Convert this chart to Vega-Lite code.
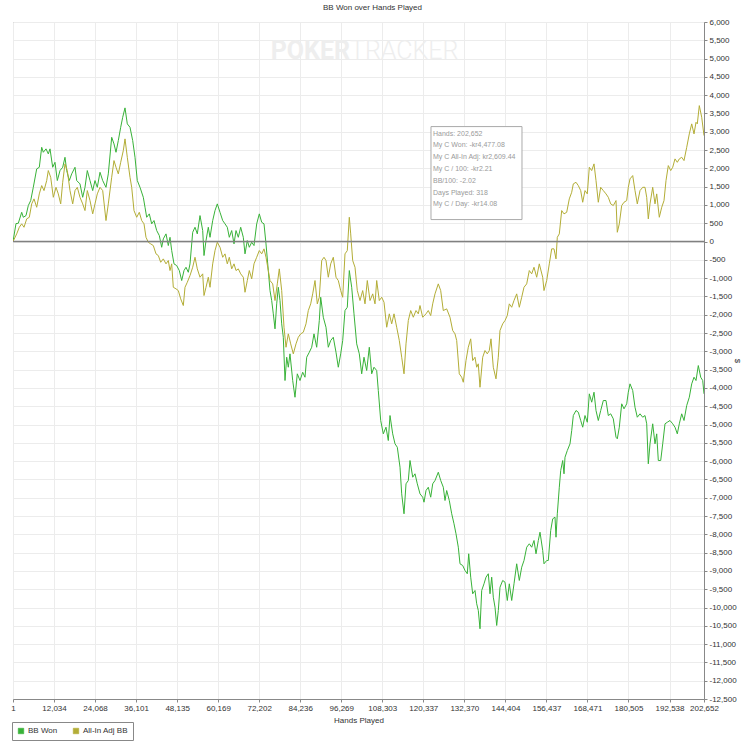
{
  "$schema": "https://vega.github.io/schema/vega-lite/v6.json",
  "width": 691,
  "height": 677,
  "autosize": {"type": "none"},
  "padding": {"left": 13, "top": 22, "right": 39, "bottom": 51},
  "background": "white",
  "title": {"text": "BB Won over Hands Played", "fontSize": 8, "fontWeight": "normal", "color": "#333", "offset": 6, "dx": 14, "font": "Liberation Sans"},
  "datasets": {
    "won": [
      {"h":1,"v":0},{"h":881,"v":492},{"h":1555,"v":500},{"h":2552,"v":800},{"h":3022,"v":664},{"h":3814,"v":710},{"h":4488,"v":984},{"h":5192,"v":1120},{"h":5954,"v":1483},{"h":6952,"v":1986},
      {"h":7714,"v":2030},{"h":8418,"v":2576},{"h":8887,"v":2440},{"h":9679,"v":2533},{"h":10353,"v":2396},{"h":10852,"v":2533},{"h":11644,"v":2030},{"h":12318,"v":2166},{"h":12993,"v":1667},{"h":13785,"v":1940},
      {"h":14576,"v":2030},{"h":15251,"v":2303},{"h":15750,"v":1940},{"h":16512,"v":1667},{"h":17216,"v":1850},{"h":18184,"v":2030},{"h":18682,"v":1667},{"h":19650,"v":1576},{"h":20442,"v":1210},{"h":21116,"v":1483},
      {"h":21791,"v":1940},{"h":22583,"v":1667},{"h":23375,"v":1393},{"h":24049,"v":1667},{"h":24724,"v":1483},{"h":25516,"v":1893},{"h":26307,"v":1667},{"h":27275,"v":1483},{"h":27950,"v":1850},{"h":28947,"v":2849},
      {"h":29621,"v":2669},{"h":30208,"v":2440},{"h":30883,"v":2759},{"h":31587,"v":3123},{"h":32173,"v":3396},{"h":32848,"v":3653},{"h":33522,"v":3216},{"h":34314,"v":3123},{"h":35106,"v":2759},{"h":35781,"v":2303},
      {"h":36455,"v":1667},{"h":37247,"v":1483},{"h":38214,"v":1210},{"h":38713,"v":937},{"h":39212,"v":664},{"h":39974,"v":757},{"h":40678,"v":484},{"h":41352,"v":574},{"h":42144,"v":301},{"h":42907,"v":164},
      {"h":43611,"v":-156},{"h":44080,"v":74},{"h":44872,"v":210},{"h":45546,"v":-109},{"h":46045,"v":117},{"h":46543,"v":-246},{"h":47218,"v":-609},{"h":48010,"v":-656},{"h":48772,"v":-792},{"h":49476,"v":-1065},
      {"h":50151,"v":-792},{"h":50737,"v":-702},{"h":51412,"v":-839},{"h":51911,"v":-609},{"h":52703,"v":254},{"h":53377,"v":391},{"h":54052,"v":210},{"h":54843,"v":710},{"h":55635,"v":301},{"h":56016,"v":-382},
      {"h":56603,"v":27},{"h":57277,"v":391},{"h":57776,"v":117},{"h":58568,"v":574},{"h":59243,"v":847},{"h":59917,"v":1030},{"h":60709,"v":800},{"h":61501,"v":574},{"h":62175,"v":484},{"h":62850,"v":391},
      {"h":63436,"v":117},{"h":64140,"v":301},{"h":64815,"v":-63},{"h":65401,"v":301},{"h":66076,"v":117},{"h":66780,"v":391},{"h":67542,"v":117},{"h":68041,"v":-336},{"h":68715,"v":27},{"h":69302,"v":-156},
      {"h":70005,"v":-19},{"h":70680,"v":-109},{"h":71472,"v":484},{"h":72234,"v":757},{"h":72938,"v":527},{"h":73613,"v":484},{"h":74199,"v":-63},{"h":74874,"v":-792},{"h":75372,"v":-1339},{"h":75871,"v":-1612},
      {"h":76340,"v":-1975},{"h":76839,"v":-2385},{"h":77337,"v":-1702},{"h":77806,"v":-1249},{"h":78304,"v":-1612},{"h":78803,"v":-2248},{"h":79272,"v":-2615},{"h":79771,"v":-3797},{"h":80269,"v":-3161},{"h":80738,"v":-3434},
      {"h":81237,"v":-3068},{"h":82029,"v":-3797},{"h":82703,"v":-4254},{"h":83378,"v":-3614},{"h":84170,"v":-3797},{"h":84961,"v":-3571},{"h":85636,"v":-3707},{"h":86135,"v":-3161},{"h":86897,"v":-3024},{"h":87601,"v":-2888},
      {"h":88275,"v":-2522},{"h":89067,"v":-2888},{"h":89830,"v":-2158},{"h":90240,"v":-1522},{"h":91003,"v":-2068},{"h":91795,"v":-2341},{"h":92469,"v":-2888},{"h":93173,"v":-2705},{"h":93935,"v":-2615},{"h":94727,"v":-3024},
      {"h":95402,"v":-3434},{"h":96106,"v":-3068},{"h":96692,"v":-2705},{"h":97367,"v":-1885},{"h":98041,"v":-1795},{"h":98628,"v":-792},{"h":99332,"v":-1249},{"h":100006,"v":-1975},{"h":100798,"v":-2795},{"h":101561,"v":-3068},
      {"h":102264,"v":-3614},{"h":102939,"v":-3161},{"h":103731,"v":-3524},{"h":104493,"v":-2888},{"h":105197,"v":-3614},{"h":105872,"v":-3434},{"h":106664,"v":-3524},{"h":107133,"v":-4071},{"h":107837,"v":-4890},{"h":108599,"v":-5254},
      {"h":109391,"v":-5073},{"h":110066,"v":-5437},{"h":110565,"v":-4754},{"h":111356,"v":-5254},{"h":112031,"v":-5527},{"h":112706,"v":-5620},{"h":113498,"v":-6166},{"h":113996,"v":-6893},{"h":114671,"v":-7439},{"h":115258,"v":-6620},
      {"h":115932,"v":-6529},{"h":116431,"v":-5983},{"h":117223,"v":-6439},{"h":117897,"v":-6346},{"h":118572,"v":-6620},{"h":119364,"v":-6893},{"h":120156,"v":-6986},{"h":120537,"v":-7122},{"h":121124,"v":-6803},{"h":121798,"v":-6713},
      {"h":122502,"v":-6986},{"h":123089,"v":-6620},{"h":123763,"v":-6529},{"h":124731,"v":-6303},{"h":125435,"v":-6529},{"h":126197,"v":-6713},{"h":126696,"v":-7076},{"h":127194,"v":-6803},{"h":127957,"v":-7076},{"h":128661,"v":-7439},
      {"h":129335,"v":-7712},{"h":129922,"v":-7986},{"h":130596,"v":-8352},{"h":131095,"v":-8805},{"h":131887,"v":-8852},{"h":132561,"v":-8988},{"h":133236,"v":-9078},{"h":133646,"v":-8532},{"h":134233,"v":-9171},{"h":134819,"v":-9625},
      {"h":135494,"v":-9535},{"h":135992,"v":-9898},{"h":136461,"v":-10081},{"h":136960,"v":-10581},{"h":137458,"v":-9535},{"h":138133,"v":-9352},{"h":138719,"v":-9171},{"h":139394,"v":-9078},{"h":139893,"v":-9625},{"h":140391,"v":-9171},
      {"h":140860,"v":-9718},{"h":141359,"v":-9991},{"h":141857,"v":-10491},{"h":142327,"v":-10081},{"h":142825,"v":-9445},{"h":143617,"v":-9261},{"h":144292,"v":-9308},{"h":144966,"v":-9808},{"h":145553,"v":-9352},{"h":146257,"v":-9808},
      {"h":146931,"v":-9352},{"h":147723,"v":-8805},{"h":148486,"v":-9261},{"h":149190,"v":-8898},{"h":149864,"v":-8715},{"h":150656,"v":-8352},{"h":151418,"v":-8259},{"h":152122,"v":-8352},{"h":152797,"v":-8169},{"h":153384,"v":-8532},
      {"h":154058,"v":-8169},{"h":154557,"v":-7942},{"h":155349,"v":-8442},{"h":155730,"v":-8805},{"h":156522,"v":-8715},{"h":156991,"v":-8715},{"h":157695,"v":-7895},{"h":158282,"v":-7576},{"h":158956,"v":-7532},{"h":159250,"v":-8079},
      {"h":159631,"v":-7439},{"h":160217,"v":-6713},{"h":160628,"v":-6256},{"h":161215,"v":-5983},{"h":161596,"v":-6346},{"h":161889,"v":-5893},{"h":162564,"v":-5710},{"h":163356,"v":-5527},{"h":163854,"v":-5163},{"h":164323,"v":-4754},
      {"h":165115,"v":-4617},{"h":165790,"v":-4664},{"h":166494,"v":-4890},{"h":167080,"v":-5073},{"h":167755,"v":-4754},{"h":168429,"v":-4937},{"h":169016,"v":-4161},{"h":169720,"v":-4390},{"h":170394,"v":-4117},{"h":170981,"v":-4617},
      {"h":171656,"v":-4890},{"h":172359,"v":-4617},{"h":173122,"v":-4344},{"h":173913,"v":-4344},{"h":174588,"v":-4754},{"h":175292,"v":-4707},{"h":176054,"v":-4844},{"h":176846,"v":-5346},{"h":177227,"v":-5390},{"h":177814,"v":-5073},
      {"h":178518,"v":-4434},{"h":179193,"v":-4571},{"h":179984,"v":-4434},{"h":180454,"v":-4117},{"h":180952,"v":-3888},{"h":181744,"v":-4071},{"h":182419,"v":-4527},{"h":183093,"v":-4800},{"h":183885,"v":-4707},{"h":184677,"v":-4800},
      {"h":185352,"v":-4754},{"h":185850,"v":-4980},{"h":186319,"v":-6073},{"h":186818,"v":-5527},{"h":187610,"v":-4980},{"h":188284,"v":-5527},{"h":188783,"v":-5254},{"h":189252,"v":-5983},{"h":189956,"v":-5983},{"h":190543,"v":-5527},
      {"h":191217,"v":-4980},{"h":191892,"v":-4937},{"h":192684,"v":-4890},{"h":193475,"v":-4980},{"h":194150,"v":-5073},{"h":194825,"v":-5254},{"h":195411,"v":-4980},{"h":196115,"v":-4707},{"h":196790,"v":-4890},{"h":197582,"v":-4480},
      {"h":198344,"v":-4254},{"h":199048,"v":-3888},{"h":199722,"v":-3707},{"h":200309,"v":-3797},{"h":200983,"v":-3388},{"h":201687,"v":-3707},{"h":202273,"v":-3797},{"h":202652,"v":-4161}
    ],
    "adj": [
      {"h":1,"v":0},{"h":1086,"v":210},{"h":1849,"v":391},{"h":2552,"v":484},{"h":3227,"v":391},{"h":4019,"v":620},{"h":4781,"v":664},{"h":5485,"v":1030},{"h":6160,"v":1167},{"h":6952,"v":937},
      {"h":7714,"v":1303},{"h":8418,"v":1530},{"h":9093,"v":1393},{"h":9884,"v":1667},{"h":10353,"v":1940},{"h":11057,"v":1757},{"h":11820,"v":1210},{"h":12612,"v":1483},{"h":13286,"v":1303},{"h":13990,"v":1030},
      {"h":14577,"v":1620},{"h":15251,"v":2123},{"h":15926,"v":1940},{"h":16717,"v":1393},{"h":17509,"v":1030},{"h":18184,"v":1393},{"h":18858,"v":1483},{"h":19650,"v":1210},{"h":20442,"v":1030},{"h":21116,"v":847},
      {"h":21791,"v":1393},{"h":22583,"v":1120},{"h":23375,"v":757},{"h":24049,"v":1030},{"h":24724,"v":1303},{"h":25516,"v":1483},{"h":26307,"v":1393},{"h":27275,"v":574},{"h":27950,"v":1030},{"h":28947,"v":1757},
      {"h":29621,"v":2213},{"h":30208,"v":2030},{"h":30883,"v":1850},{"h":31587,"v":2166},{"h":32349,"v":2486},{"h":32848,"v":2806},{"h":33522,"v":2303},{"h":34314,"v":1757},{"h":34813,"v":1483},{"h":35487,"v":847},
      {"h":36279,"v":664},{"h":37041,"v":800},{"h":37745,"v":574},{"h":38420,"v":484},{"h":39006,"v":117},{"h":39681,"v":-19},{"h":40385,"v":-63},{"h":41147,"v":-109},{"h":41939,"v":-336},{"h":42613,"v":-382},
      {"h":43317,"v":-566},{"h":44080,"v":-473},{"h":44872,"v":-609},{"h":45546,"v":-519},{"h":46045,"v":-792},{"h":46543,"v":-609},{"h":47012,"v":-1249},{"h":47805,"v":-1292},{"h":48479,"v":-1339},{"h":49183,"v":-1565},
      {"h":49945,"v":-1748},{"h":50444,"v":-1249},{"h":51118,"v":-1112},{"h":51910,"v":-929},{"h":52702,"v":-702},{"h":53377,"v":-429},{"h":54051,"v":-746},{"h":54843,"v":-975},{"h":55635,"v":-882},{"h":56016,"v":-1475},
      {"h":56603,"v":-1249},{"h":57277,"v":-975},{"h":57776,"v":-1249},{"h":58568,"v":-609},{"h":59243,"v":-246},{"h":59917,"v":-19},{"h":60709,"v":-156},{"h":61501,"v":-429},{"h":62175,"v":-336},{"h":62850,"v":-609},
      {"h":63436,"v":-429},{"h":64140,"v":-746},{"h":64815,"v":-609},{"h":65401,"v":-792},{"h":66076,"v":-746},{"h":66780,"v":-882},{"h":67542,"v":-975},{"h":68041,"v":-1385},{"h":68715,"v":-1065},{"h":69302,"v":-792},
      {"h":70005,"v":-1019},{"h":70680,"v":-609},{"h":71472,"v":-429},{"h":72234,"v":-246},{"h":72938,"v":-336},{"h":73613,"v":-199},{"h":74199,"v":-429},{"h":74874,"v":-792},{"h":75372,"v":-1065},{"h":76164,"v":-1156},
      {"h":76839,"v":-1612},{"h":77513,"v":-1156},{"h":78100,"v":-746},{"h":78803,"v":-1339},{"h":79478,"v":-2341},{"h":80065,"v":-2888},{"h":80739,"v":-2522},{"h":81443,"v":-2795},{"h":82205,"v":-3068},{"h":82997,"v":-2795},
      {"h":83672,"v":-2615},{"h":84376,"v":-2522},{"h":85138,"v":-2478},{"h":85930,"v":-2248},{"h":86605,"v":-1885},{"h":87309,"v":-1702},{"h":87895,"v":-1429},{"h":88570,"v":-1065},{"h":89244,"v":-1702},{"h":89831,"v":-1522},
      {"h":90535,"v":-519},{"h":91209,"v":-429},{"h":91796,"v":-519},{"h":92470,"v":-975},{"h":93174,"v":-609},{"h":93936,"v":-429},{"h":94728,"v":-975},{"h":95403,"v":-1065},{"h":96107,"v":-1339},{"h":96693,"v":-1522},
      {"h":97367,"v":-336},{"h":98042,"v":-246},{"h":98628,"v":664},{"h":99039,"v":210},{"h":99626,"v":-519},{"h":100300,"v":-702},{"h":100975,"v":-1339},{"h":101767,"v":-1612},{"h":102559,"v":-1339},{"h":103233,"v":-1702},
      {"h":103908,"v":-1065},{"h":104700,"v":-1612},{"h":105492,"v":-1429},{"h":106166,"v":-1702},{"h":106665,"v":-1065},{"h":107427,"v":-1612},{"h":108131,"v":-1522},{"h":108806,"v":-1658},{"h":109598,"v":-2341},{"h":110360,"v":-1975},
      {"h":111064,"v":-2248},{"h":111739,"v":-1975},{"h":112530,"v":-2341},{"h":113293,"v":-2705},{"h":113997,"v":-3161},{"h":114671,"v":-3614},{"h":115258,"v":-2795},{"h":115933,"v":-2158},{"h":116637,"v":-1885},{"h":117399,"v":-2068},
      {"h":118191,"v":-1885},{"h":118866,"v":-1975},{"h":119360,"v":-1748},{"h":120151,"v":-2068},{"h":121119,"v":-1975},{"h":121794,"v":-1885},{"h":122498,"v":-2022},{"h":123084,"v":-1702},{"h":123759,"v":-1429},{"h":124727,"v":-1156},
      {"h":125431,"v":-1339},{"h":126193,"v":-1885},{"h":127190,"v":-1839},{"h":128158,"v":-2068},{"h":128950,"v":-2431},{"h":129624,"v":-2522},{"h":130123,"v":-2705},{"h":130886,"v":-3614},{"h":131590,"v":-3707},{"h":132059,"v":-3844},
      {"h":132851,"v":-3251},{"h":133525,"v":-2888},{"h":134229,"v":-2658},{"h":134816,"v":-3251},{"h":135490,"v":-3161},{"h":135989,"v":-3434},{"h":136458,"v":-3341},{"h":136957,"v":-3981},{"h":137749,"v":-3161},{"h":138423,"v":-2978},
      {"h":139098,"v":-3068},{"h":139684,"v":-2978},{"h":140183,"v":-2658},{"h":140858,"v":-3434},{"h":141650,"v":-3751},{"h":142324,"v":-3161},{"h":142823,"v":-2431},{"h":143615,"v":-2248},{"h":144290,"v":-2158},{"h":144964,"v":-2022},
      {"h":145551,"v":-1702},{"h":146255,"v":-1795},{"h":146929,"v":-1612},{"h":147721,"v":-1429},{"h":148484,"v":-1795},{"h":149188,"v":-1522},{"h":149862,"v":-1249},{"h":150654,"v":-1156},{"h":151417,"v":-792},{"h":152120,"v":-882},
      {"h":152795,"v":-702},{"h":153587,"v":-975},{"h":154349,"v":-609},{"h":155346,"v":-975},{"h":155728,"v":-1339},{"h":156520,"v":-1065},{"h":157282,"v":-609},{"h":157986,"v":-199},{"h":158661,"v":-199},{"h":159247,"v":-473},
      {"h":159628,"v":117},{"h":160215,"v":210},{"h":160919,"v":847},{"h":161594,"v":757},{"h":162385,"v":800},{"h":163148,"v":1167},{"h":163852,"v":1347},{"h":164321,"v":1576},{"h":165113,"v":1620},{"h":165788,"v":1530},
      {"h":166491,"v":1393},{"h":167078,"v":1074},{"h":167753,"v":1393},{"h":168427,"v":1303},{"h":169014,"v":2030},{"h":169718,"v":1940},{"h":170392,"v":2123},{"h":170979,"v":1667},{"h":171654,"v":1074},{"h":172358,"v":1483},
      {"h":173120,"v":1393},{"h":173912,"v":1303},{"h":174586,"v":1210},{"h":175290,"v":1030},{"h":176053,"v":984},{"h":176845,"v":1120},{"h":177226,"v":254},{"h":177812,"v":484},{"h":178516,"v":984},{"h":179191,"v":1074},
      {"h":179983,"v":1120},{"h":180452,"v":1483},{"h":180951,"v":1713},{"h":181743,"v":1803},{"h":182417,"v":1393},{"h":183092,"v":1030},{"h":183884,"v":1393},{"h":184676,"v":1483},{"h":185350,"v":1483},{"h":185849,"v":1210},
      {"h":186318,"v":620},{"h":186817,"v":1030},{"h":187609,"v":1483},{"h":188283,"v":1030},{"h":188782,"v":1303},{"h":189544,"v":664},{"h":190248,"v":937},{"h":190923,"v":1120},{"h":191509,"v":1667},{"h":192184,"v":2076},
      {"h":192888,"v":1940},{"h":193474,"v":2030},{"h":194149,"v":2259},{"h":194823,"v":2166},{"h":195410,"v":2259},{"h":196114,"v":2303},{"h":196788,"v":2213},{"h":197580,"v":2576},{"h":198343,"v":2942},{"h":199047,"v":3216},
      {"h":199721,"v":2942},{"h":200308,"v":3259},{"h":200689,"v":3216},{"h":201276,"v":3715},{"h":201980,"v":3396},{"h":202652,"v":2896}
    ]
  },
  "layer": [
    {
      "data": {"name": "won"},
      "mark": {"type": "line", "strokeWidth": 1, "clip": true},
      "encoding": {
        "x": {
          "field": "h",
          "type": "quantitative",
          "scale": {"domain": [1, 202652], "nice": false, "zero": false},
          "axis": {
            "values": [1, 12034, 24068, 36101, 48135, 60169, 72202, 84236, 96269, 108303, 120337, 132370, 144404, 156437, 168471, 180505, 192538, 202652],
            "tickCount": 40,
            "labelExpr": "format(datum.value, ',')",
            "title": "Hands Played",
            "grid": true,
            "labelFlush": false,
            "labelOverlap": false
          }
        },
        "y": {
          "field": "v",
          "type": "quantitative",
          "scale": {"domain": [-12500, 6000], "nice": false, "zero": false},
          "axis": {
            "orient": "right",
            "values": [-12500, -12000, -11500, -11000, -10500, -10000, -9500, -9000, -8500, -8000, -7500, -7000, -6500, -6000, -5500, -5000, -4500, -4000, -3500, -3000, -2500, -2000, -1500, -1000, -500, 0, 500, 1000, 1500, 2000, 2500, 3000, 3500, 4000, 4500, 5000, 5500, 6000],
            "tickCount": 40,
            "labelExpr": "replace(format(datum.value, ','), '\u2212', '-')",
            "title": "$",
            "titlePadding": -4,
            "grid": true,
            "labelOverlap": false
          }
        },
        "color": {
          "datum": "BB Won",
          "type": "nominal",
          "scale": {"domain": ["BB Won", "All-In Adj BB"], "range": ["#38b238", "#b3ad36"]},
          "legend": {
            "title": null,
            "orient": "none",
            "legendX": -1,
            "legendY": 700,
            "direction": "horizontal",
            "symbolType": "square",
            "encode": {
              "symbols": {
                "update": {
                  "fill": {"scale": "color", "field": "value"},
                  "stroke": {"value": "#444"},
                  "strokeWidth": {"value": 0.6}
                }
              }
            }
          }
        }
      }
    },
    {
      "data": {"name": "adj"},
      "mark": {"type": "line", "strokeWidth": 1, "clip": true},
      "encoding": {
        "x": {"field": "h", "type": "quantitative"},
        "y": {"field": "v", "type": "quantitative"},
        "color": {"datum": "All-In Adj BB", "type": "nominal"}
      }
    },
    {
      "data": {"values": [{}]},
      "mark": {"type": "rule", "color": "#808080", "strokeWidth": 1.5},
      "encoding": {
        "y": {"datum": 0, "type": "quantitative"}
      }
    },
    {
      "data": {"values": [{}]},
      "mark": {"type": "text", "text": "POKER", "align": "right", "baseline": "middle", "fontSize": 25, "fontWeight": "bold", "font": "Roboto", "color": "#eeeeee"},
      "encoding": {
        "x": {"datum": 98832, "type": "quantitative"},
        "y": {"datum": 5218, "type": "quantitative"}
      }
    },
    {
      "data": {"values": [{}]},
      "mark": {"type": "text", "text": "TRACKER", "align": "left", "baseline": "middle", "fontSize": 25, "fontWeight": 300, "font": "Roboto", "color": "#eeeeee"},
      "encoding": {
        "x": {"datum": 98832, "type": "quantitative"},
        "y": {"datum": 5218, "type": "quantitative"}
      }
    },
    {
      "data": {"values": [{}]},
      "mark": {"type": "rect", "fill": "white", "stroke": "#aaaaaa", "strokeWidth": 1},
      "encoding": {
        "x": {"datum": 122587, "type": "quantitative"},
        "x2": {"datum": 149275},
        "y": {"datum": 3142, "type": "quantitative"},
        "y2": {"datum": 601}
      }
    },
    {
      "data": {"values": [{}]},
      "mark": {
        "type": "text",
        "text": ["Hands: 202,652", "My C Won: -kr4,477.08", "My C All-In Adj: kr2,609.44", "My C / 100: -kr2.21", "BB/100: -2.02", "Days Played: 318", "My C / Day: -kr14.08"],
        "align": "left",
        "baseline": "top",
        "fontSize": 7,
        "lineHeight": 11.8,
        "font": "Liberation Sans",
        "color": "#9a9a9a"
      },
      "encoding": {
        "x": {"datum": 123173, "type": "quantitative"},
        "y": {"datum": 3060, "type": "quantitative"}
      }
    }
  ],
  "config": {
    "font": "Liberation Sans",
    "view": {"stroke": "#999999", "strokeWidth": 1},
    "axis": {
      "labelFontSize": 8,
      "labelColor": "#333",
      "titleFontSize": 8,
      "titleFontWeight": "normal",
      "titleColor": "#333",
      "domainColor": "#888",
      "tickColor": "#888",
      "tickSize": 3,
      "labelPadding": 2,
      "titlePadding": 4,
      "gridColor": "#ececec",
      "gridWidth": 1
    },
    "legend": {
      "labelFontSize": 8,
      "labelColor": "#333",
      "strokeColor": "#888",
      "fillColor": "white",
      "padding": 5,
      "symbolSize": 30,
      "columnPadding": 14,
      "labelOffset": 3
    }
  }
}
